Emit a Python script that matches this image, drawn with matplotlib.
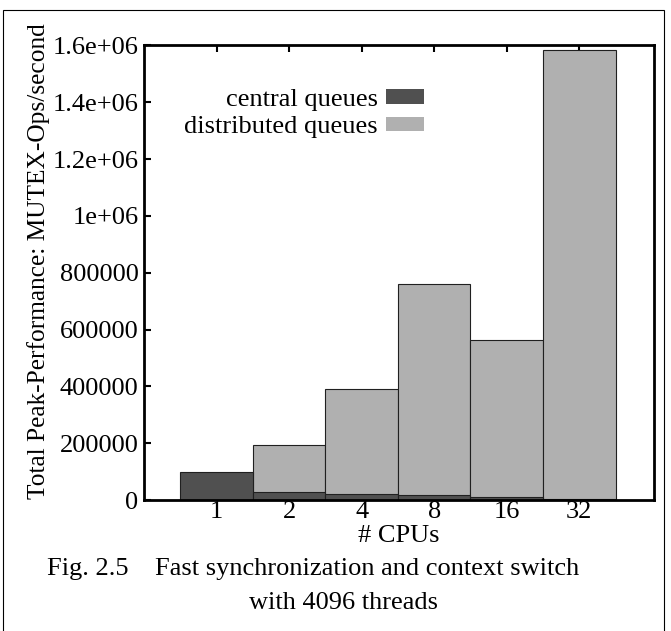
import matplotlib
matplotlib.use('Agg')
import matplotlib.pyplot as plt
from matplotlib.patches import Patch, Rectangle

# data
cpu_labels = ['1', '2', '4', '8', '16', '32']
central_queues = [97500, 28000, 22000, 16500, 9500, 4000]
distributed_queues = [0, 195000, 390000, 760000, 562000, 1583000]
y_ticks = [0, 200000, 400000, 600000, 800000, 1000000, 1200000, 1400000, 1600000]
y_tick_labels = ['0', '200000', '400000', '600000', '800000', '1e+06', '1.2e+06', '1.4e+06', '1.6e+06']

plt.rcParams['font.family'] = ['Liberation Serif', 'DejaVu Serif']
plt.rcParams['font.size'] = 19

DARK = '#505050'
LIGHT = '#b0b0b0'

fig = plt.figure(figsize=(6.71, 6.31), dpi=100)
ax = fig.add_axes([0.2146, 0.2076, 0.7601, 0.7203])

x = list(range(1, len(cpu_labels) + 1))
ax.bar(x, distributed_queues, width=1.0, color=LIGHT, edgecolor='#202020', linewidth=0.8, zorder=2)
ax.bar(x, central_queues, width=1.0, color=DARK, edgecolor='#202020', linewidth=0.8, zorder=3)

ax.set_xlim(0, 7.03)
ax.set_ylim(0, 1600000)
ax.set_xticks(x)
ax.set_xticklabels(cpu_labels)
ax.set_yticks(y_ticks)
ax.set_yticklabels(y_tick_labels)
ax.tick_params(direction='in', length=5, width=1.5, top=True, right=False, pad=4)
ax.tick_params(axis='x', pad=1)
for s in ax.spines.values():
    s.set_linewidth(2.0)
    s.set_zorder(5)

ax.set_xlabel('# CPUs', labelpad=1)
ax.set_ylabel('Total Peak-Performance: MUTEX-Ops/second', fontsize=18.3)
ax.yaxis.set_label_coords(-0.185, 0.525)

handles = [Patch(facecolor=DARK, edgecolor='none'), Patch(facecolor=LIGHT, edgecolor='none')]
ax.legend(handles, ['central queues', 'distributed queues'], loc='upper right',
          bbox_to_anchor=(0.585, 0.945), frameon=False, markerfirst=False,
          handlelength=1.45, handleheight=0.45, handletextpad=0.3, labelspacing=0.2,
          borderpad=0.2, alignment='right')

fig.text(0.07, 0.098, 'Fig. 2.5    Fast synchronization and context switch', ha='left', va='center')
fig.text(0.512, 0.044, 'with 4096 threads', ha='center', va='center')

fig.patches.append(Rectangle((0.005, -0.01), 0.985, 0.994, transform=fig.transFigure,
                             fill=False, edgecolor='black', linewidth=0.8))

fig.savefig('out.png', dpi=100)
